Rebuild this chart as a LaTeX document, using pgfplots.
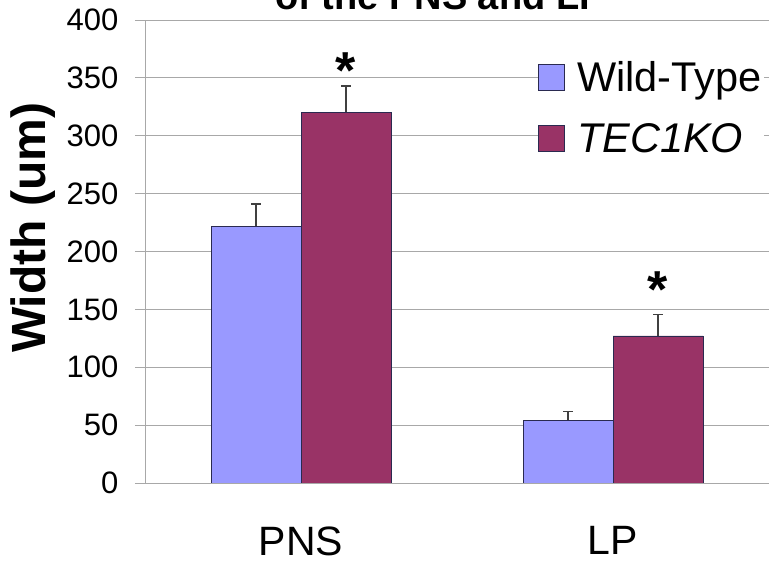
\documentclass[border=0pt]{standalone}
\usepackage{pgfplots}
\pgfplotsset{compat=1.18}
\usepackage{fontspec}
\setmainfont{Liberation Sans}
\definecolor{wt}{HTML}{9999FF}
\definecolor{ko}{HTML}{993366}
\definecolor{gridc}{HTML}{A8A8A8}
\definecolor{edge}{HTML}{2A2A50}
\begin{document}
\begin{tikzpicture}[x=1pt,y=1pt]
\begin{axis}[
  at={(145pt,81pt)}, anchor=south west,
  scale only axis, width=624pt, height=463pt,
  xmin=0, xmax=2, ymin=0, ymax=400,
  ytick={0,50,...,400},
  ymajorgrids, grid style={gridc, line width=0.9pt},
  axis x line*=bottom, axis y line*=left,
  axis line style={gridc, line width=0.9pt, -},
  tick align=outside, major tick length=10pt,
  tick style={gridc, line width=0.9pt},
  xtick={0.5,1.5}, xticklabels={PNS,LP},
  xtick style={draw=none},
  extra x ticks={1,2}, extra x tick labels={},
  extra x tick style={grid=none, major tick length=12pt, tick style={gridc, line width=0.9pt, draw=gridc}},
  /pgf/number format/assume math mode=true,
  yticklabel style={font=\fontsize{31}{32}\selectfont, xshift=-13pt},
  xticklabel style={font=\fontsize{41}{44}\selectfont, anchor=north, yshift=-30pt},
  ylabel={\bfseries Width (um)},
  ylabel style={font=\fontsize{48}{50}\selectfont, at={(axis description cs:-0.1795,0.551)}, anchor=center},
  ybar=0pt, bar width=90pt,
  legend style={at={(rel axis cs:0.63,0.915)}, anchor=north west, draw=none, fill=white,
    font=\fontsize{41.5}{43}\selectfont, inner sep=0pt, row sep=26pt},
  legend cell align=left,
]
\addplot[fill=wt, draw=edge, line width=0.7pt,
  legend image code/.code={\draw[fill=wt, draw=edge, line width=0.7pt] (0pt,-13pt) rectangle (26pt,13pt); \path (36pt,0pt);},
  error bars/.cd, y dir=plus, y explicit,
  error bar style={black!75, line width=1.1pt},
  error mark options={rotate=90, mark size=5pt, black!75, line width=1.1pt}]
  coordinates {(0.5,222) +- (0,19) (1.5,54) +- (0,7.5)};
\addplot[fill=ko, draw=edge, line width=0.7pt,
  legend image code/.code={\draw[fill=ko, draw=edge, line width=0.7pt] (0pt,-13pt) rectangle (26pt,13pt); \path (36pt,0pt);},
  error bars/.cd, y dir=plus, y explicit,
  error bar style={black!75, line width=1.1pt},
  error mark options={rotate=90, mark size=5pt, black!75, line width=1.1pt}]
  coordinates {(0.5,320.5) +- (0,22.5) (1.5,127) +- (0,18.5)};
\legend{Wild-Type, \textit{TEC1KO}}
\node[font=\bfseries\fontsize{52}{52}\selectfont] at (axis cs:0.644,356) {*};
\node[font=\bfseries\fontsize{52}{52}\selectfont] at (axis cs:1.644,167) {*};
\end{axis}
\node[anchor=base, font=\bfseries\fontsize{38}{40}\selectfont] at (440,554) {of the PNS and LP};
\pgfresetboundingbox
\useasboundingbox (0,0) rectangle (771,564);
\end{tikzpicture}
\end{document}
